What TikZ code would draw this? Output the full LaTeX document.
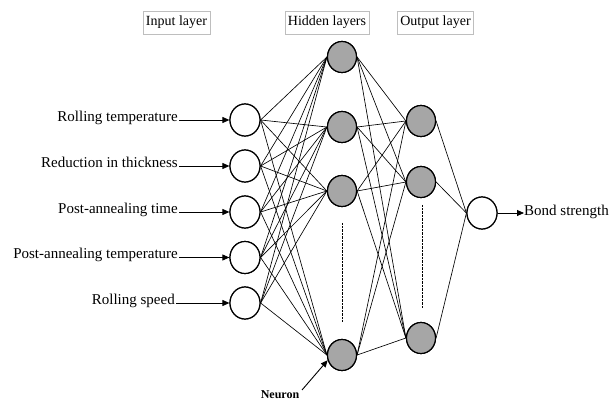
\documentclass[tikz,border=0pt]{standalone}
\usepackage{fontspec}
\setmainfont{Liberation Serif}
\usetikzlibrary{arrows.meta,shapes.geometric}
\definecolor{nfill}{RGB}{166,166,166}
\definecolor{boxline}{RGB}{190,190,190}
\tikzset{
  inneuron/.style={ellipse, draw=black, line width=1.2pt, fill=white, minimum width=30pt, minimum height=32pt, inner sep=0pt},
  hidneuron/.style={ellipse, draw=black, line width=1.2pt, fill=nfill, minimum width=29pt, minimum height=31pt, inner sep=0pt},
  layerbox/.style={draw=boxline, line width=0.6pt, font=\fontsize{14}{16}\selectfont, minimum height=23pt, inner xsep=3pt, inner ysep=0pt},
  inlabel/.style={anchor=base east, inner sep=0pt, font=\fontsize{15}{17}\selectfont},
  link/.style={line width=0.65pt, black},
  feed/.style={line width=0.85pt, -{Triangle[length=7pt,width=6pt]}},
  vdots/.style={line width=0.6pt, dash pattern=on 0.7pt off 0.7pt}
}
\begin{document}
\begin{tikzpicture}[x=1pt,y=-1pt]
\useasboundingbox (0,0) rectangle (614,401);
% layer labels
\node[layerbox, minimum width=67pt] (lin) at (176.5,22.5) {Input layer};
\node[layerbox, minimum width=80pt] (lhid) at (327,22.5) {Hidden layers};
\node[layerbox, minimum width=75pt] (lout) at (435.5,22.5) {Output layer};
% input neurons
\node[inneuron] (i1) at (245,120) {};
\node[inneuron] (i2) at (245,166) {};
\node[inneuron] (i3) at (245,212) {};
\node[inneuron] (i4) at (245,257.5) {};
\node[inneuron] (i5) at (245,303) {};
% hidden layer 1
\node[hidneuron] (h1) at (342,57) {};
\node[hidneuron] (h2) at (342,127) {};
\node[hidneuron] (h3) at (342,191) {};
\node[hidneuron] (h4) at (342,355) {};
% hidden layer 2
\node[hidneuron] (g1) at (421,121) {};
\node[hidneuron] (g2) at (421,182) {};
\node[hidneuron] (g3) at (421,338) {};
% output
\node[inneuron] (o1) at (482,213) {};
% connections
\foreach \i in {1,...,5}{
  \foreach \h in {1,...,4}{
    \draw[link] (i\i.east) -- (h\h.west);
  }
}
\foreach \h in {1,...,4}{
  \foreach \g in {1,...,3}{
    \draw[link] (h\h.east) -- (g\g.west);
  }
}
\foreach \g in {1,...,3}{
  \draw[link] (g\g.east) -- (o1.west);
}
% redraw neurons on top of the links
\foreach \n in {i1,i2,i3,i4,i5}{\node[inneuron] at (\n) {};}
\foreach \n in {h1,h2,h3,h4,g1,g2,g3}{\node[hidneuron] at (\n) {};}
\node[inneuron] at (o1) {};
% dotted continuation
\coordinate (d1a) at (342,223);
\coordinate (d1b) at (342,322);
\coordinate (d2a) at (422,205);
\coordinate (d2b) at (422,308);
\draw[vdots] (d1a) -- (d1b);
\draw[vdots] (d2a) -- (d2b);
% input labels
\node[inlabel] (t1) at (178,121.5) {Rolling temperature};
\node[inlabel] (t2) at (178,167.5) {Reduction in thickness};
\node[inlabel] (t3) at (178,213.5) {Post-annealing time};
\node[inlabel] (t4) at (178,259) {Post-annealing temperature};
\node[inlabel] (t5) at (175,304.5) {Rolling speed};
\foreach \k in {1,...,5}{
  \draw[feed] (t\k.east |- i\k.west) ++(1,0) -- (i\k.west);
}
% output label
\node[anchor=base west, inner sep=0pt, font=\fontsize{15}{17}\selectfont] (bs) at (524,216) {Bond strength};
\draw[feed] (o1.east) -- (bs.west |- o1.east);
% neuron label
\node[inner sep=0pt, font=\bfseries\fontsize{12}{14}\selectfont] (nl) at (280,395) {Neuron};
\coordinate (nstart) at (302,390);
\draw[line width=0.9pt, -{Triangle[length=7pt,width=6pt]}] (nstart) -- (h4.200);
\end{tikzpicture}
\end{document}
